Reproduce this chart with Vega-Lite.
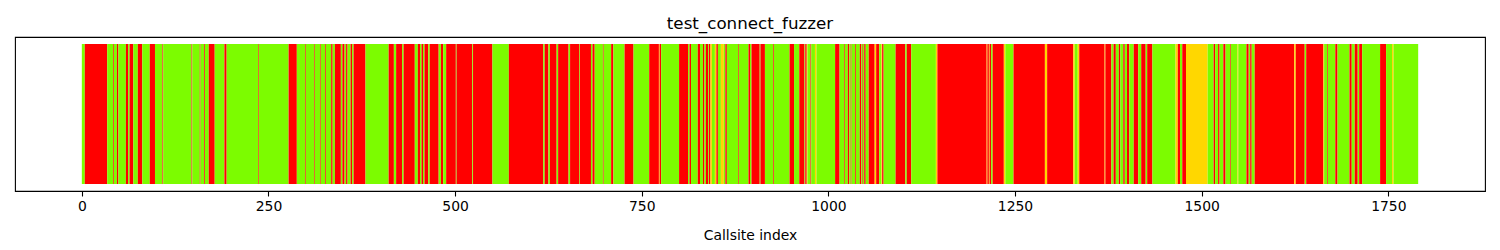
{
  "$schema": "https://vega.github.io/schema/vega-lite/v6.json",
  "width": 1470,
  "height": 154,
  "autosize": {"type": "none"},
  "padding": {"left": 15, "top": 37, "right": 15, "bottom": 59},
  "background": "white",
  "title": {"text": "test_connect_fuzzer", "fontSize": 16.7, "font": "DejaVu Sans", "fontWeight": "normal", "color": "black", "anchor": "middle", "offset": -13, "baseline": "bottom"},
  "config": {
    "view": {"stroke": "black", "strokeWidth": 1.1},
    "axis": {"grid": false}
  },
  "data": {"values": [
    {"start":0,"end":4,"status":"green"},{"start":4,"end":34,"status":"red"},{"start":34,"end":42,"status":"green"},{"start":42,"end":43,"status":"red"},{"start":43,"end":47,"status":"green"},{"start":47,"end":49,"status":"red"},{"start":49,"end":59,"status":"green"},{"start":59,"end":62,"status":"red"},{"start":62,"end":64,"status":"green"},{"start":64,"end":69,"status":"red"},{"start":69,"end":75,"status":"green"},{"start":75,"end":81,"status":"red"},{"start":81,"end":91,"status":"green"},{"start":91,"end":98,"status":"red"},{"start":98,"end":108,"status":"green"},{"start":108,"end":109,"status":"red"},{"start":109,"end":147,"status":"green"},{"start":147,"end":148,"status":"red"},{"start":148,"end":158,"status":"green"},{"start":158,"end":159,"status":"red"},{"start":159,"end":164,"status":"green"},{"start":164,"end":165,"status":"red"},{"start":165,"end":170,"status":"green"},{"start":170,"end":178,"status":"red"},{"start":178,"end":191,"status":"green"},{"start":191,"end":194,"status":"red"},{"start":194,"end":236,"status":"green"},{"start":236,"end":237,"status":"red"},{"start":237,"end":277,"status":"green"},{"start":277,"end":288,"status":"red"},{"start":288,"end":299,"status":"green"},{"start":299,"end":300,"status":"red"},{"start":300,"end":311,"status":"green"},{"start":311,"end":312,"status":"red"},{"start":312,"end":319,"status":"green"},{"start":319,"end":320,"status":"red"},{"start":320,"end":326,"status":"green"},{"start":326,"end":327,"status":"red"},{"start":327,"end":334,"status":"green"},{"start":334,"end":336,"status":"red"},{"start":336,"end":339,"status":"green"},{"start":339,"end":347,"status":"red"},{"start":347,"end":349,"status":"green"},{"start":349,"end":352,"status":"red"},{"start":352,"end":354,"status":"green"},{"start":354,"end":356,"status":"red"},{"start":356,"end":360,"status":"green"},{"start":360,"end":362,"status":"red"},{"start":362,"end":364,"status":"green"},{"start":364,"end":380,"status":"red"},{"start":380,"end":411,"status":"green"},{"start":411,"end":418,"status":"red"},{"start":418,"end":421,"status":"green"},{"start":421,"end":429,"status":"red"},{"start":429,"end":431,"status":"green"},{"start":431,"end":446,"status":"red"},{"start":446,"end":450,"status":"green"},{"start":450,"end":453,"status":"red"},{"start":453,"end":455,"status":"green"},{"start":455,"end":457,"status":"red"},{"start":457,"end":459,"status":"green"},{"start":459,"end":464,"status":"red"},{"start":464,"end":466,"status":"green"},{"start":466,"end":478,"status":"red"},{"start":478,"end":481,"status":"green"},{"start":481,"end":484,"status":"red"},{"start":484,"end":488,"status":"green"},{"start":488,"end":501,"status":"red"},{"start":501,"end":502,"status":"green"},{"start":502,"end":523,"status":"red"},{"start":523,"end":524,"status":"green"},{"start":524,"end":550,"status":"red"},{"start":550,"end":572,"status":"green"},{"start":572,"end":618,"status":"red"},{"start":618,"end":620,"status":"green"},{"start":620,"end":625,"status":"red"},{"start":625,"end":627,"status":"green"},{"start":627,"end":636,"status":"red"},{"start":636,"end":638,"status":"green"},{"start":638,"end":652,"status":"red"},{"start":652,"end":654,"status":"green"},{"start":654,"end":666,"status":"red"},{"start":666,"end":667,"status":"green"},{"start":667,"end":682,"status":"red"},{"start":682,"end":684,"status":"green"},{"start":684,"end":687,"status":"red"},{"start":687,"end":698,"status":"green"},{"start":698,"end":699,"status":"red"},{"start":699,"end":709,"status":"green"},{"start":709,"end":712,"status":"red"},{"start":712,"end":727,"status":"green"},{"start":727,"end":739,"status":"red"},{"start":739,"end":760,"status":"green"},{"start":760,"end":773,"status":"red"},{"start":773,"end":774,"status":"yellow"},{"start":774,"end":776,"status":"red"},{"start":776,"end":800,"status":"green"},{"start":800,"end":812,"status":"red"},{"start":812,"end":814,"status":"green"},{"start":814,"end":816,"status":"red"},{"start":816,"end":825,"status":"green"},{"start":825,"end":828,"status":"red"},{"start":828,"end":832,"status":"green"},{"start":832,"end":834,"status":"red"},{"start":834,"end":836,"status":"green"},{"start":836,"end":839,"status":"red"},{"start":839,"end":840,"status":"green"},{"start":840,"end":842,"status":"red"},{"start":842,"end":844,"status":"yellow"},{"start":844,"end":848,"status":"green"},{"start":848,"end":850,"status":"yellow"},{"start":850,"end":852,"status":"red"},{"start":852,"end":856,"status":"green"},{"start":856,"end":860,"status":"yellow"},{"start":860,"end":862,"status":"green"},{"start":862,"end":864,"status":"red"},{"start":864,"end":879,"status":"green"},{"start":879,"end":880,"status":"red"},{"start":880,"end":893,"status":"green"},{"start":893,"end":895,"status":"red"},{"start":895,"end":897,"status":"green"},{"start":897,"end":908,"status":"red"},{"start":908,"end":909,"status":"green"},{"start":909,"end":915,"status":"red"},{"start":915,"end":926,"status":"green"},{"start":926,"end":927,"status":"red"},{"start":927,"end":948,"status":"green"},{"start":948,"end":954,"status":"red"},{"start":954,"end":961,"status":"green"},{"start":961,"end":968,"status":"red"},{"start":968,"end":969,"status":"green"},{"start":969,"end":971,"status":"red"},{"start":971,"end":972,"status":"yellow"},{"start":972,"end":976,"status":"green"},{"start":976,"end":977,"status":"red"},{"start":977,"end":982,"status":"green"},{"start":982,"end":984,"status":"yellow"},{"start":984,"end":1009,"status":"green"},{"start":1009,"end":1015,"status":"red"},{"start":1015,"end":1021,"status":"green"},{"start":1021,"end":1022,"status":"red"},{"start":1022,"end":1026,"status":"green"},{"start":1026,"end":1028,"status":"red"},{"start":1028,"end":1030,"status":"green"},{"start":1030,"end":1031,"status":"red"},{"start":1031,"end":1036,"status":"green"},{"start":1036,"end":1037,"status":"red"},{"start":1037,"end":1042,"status":"green"},{"start":1042,"end":1044,"status":"red"},{"start":1044,"end":1045,"status":"green"},{"start":1045,"end":1046,"status":"red"},{"start":1046,"end":1048,"status":"green"},{"start":1048,"end":1050,"status":"red"},{"start":1050,"end":1054,"status":"green"},{"start":1054,"end":1062,"status":"red"},{"start":1062,"end":1064,"status":"yellow"},{"start":1064,"end":1068,"status":"red"},{"start":1068,"end":1071,"status":"green"},{"start":1071,"end":1072,"status":"yellow"},{"start":1072,"end":1074,"status":"red"},{"start":1074,"end":1090,"status":"green"},{"start":1090,"end":1103,"status":"red"},{"start":1103,"end":1105,"status":"green"},{"start":1105,"end":1111,"status":"red"},{"start":1111,"end":1144,"status":"green"},{"start":1144,"end":1146,"status":"yellow"},{"start":1146,"end":1212,"status":"red"},{"start":1212,"end":1213,"status":"yellow"},{"start":1213,"end":1215,"status":"red"},{"start":1215,"end":1216,"status":"yellow"},{"start":1216,"end":1218,"status":"red"},{"start":1218,"end":1220,"status":"green"},{"start":1220,"end":1235,"status":"red"},{"start":1235,"end":1237,"status":"yellow"},{"start":1237,"end":1248,"status":"green"},{"start":1248,"end":1290,"status":"red"},{"start":1290,"end":1293,"status":"yellow"},{"start":1293,"end":1328,"status":"red"},{"start":1328,"end":1330,"status":"yellow"},{"start":1330,"end":1334,"status":"green"},{"start":1334,"end":1336,"status":"yellow"},{"start":1336,"end":1370,"status":"red"},{"start":1370,"end":1371,"status":"yellow"},{"start":1371,"end":1379,"status":"red"},{"start":1379,"end":1382,"status":"green"},{"start":1382,"end":1385,"status":"red"},{"start":1385,"end":1389,"status":"green"},{"start":1389,"end":1391,"status":"red"},{"start":1391,"end":1395,"status":"green"},{"start":1395,"end":1397,"status":"red"},{"start":1397,"end":1400,"status":"green"},{"start":1400,"end":1403,"status":"red"},{"start":1403,"end":1409,"status":"green"},{"start":1409,"end":1415,"status":"red"},{"start":1415,"end":1419,"status":"green"},{"start":1419,"end":1425,"status":"red"},{"start":1425,"end":1427,"status":"green"},{"start":1427,"end":1434,"status":"red"},{"start":1434,"end":1465,"status":"green"},{"start":1465,"end":1468,"status":"yellow"},{"start":1468,"end":1471,"status":"red"},{"start":1471,"end":1474,"status":"green"},{"start":1474,"end":1479,"status":"red"},{"start":1479,"end":1508,"status":"yellow"},{"start":1508,"end":1516,"status":"green"},{"start":1516,"end":1518,"status":"red"},{"start":1518,"end":1522,"status":"green"},{"start":1522,"end":1524,"status":"red"},{"start":1524,"end":1529,"status":"green"},{"start":1529,"end":1532,"status":"red"},{"start":1532,"end":1538,"status":"green"},{"start":1538,"end":1539,"status":"red"},{"start":1539,"end":1548,"status":"green"},{"start":1548,"end":1549,"status":"yellow"},{"start":1549,"end":1560,"status":"green"},{"start":1560,"end":1563,"status":"red"},{"start":1563,"end":1565,"status":"green"},{"start":1565,"end":1567,"status":"red"},{"start":1567,"end":1571,"status":"green"},{"start":1571,"end":1624,"status":"red"},{"start":1624,"end":1626,"status":"yellow"},{"start":1626,"end":1638,"status":"red"},{"start":1638,"end":1640,"status":"green"},{"start":1640,"end":1663,"status":"red"},{"start":1663,"end":1664,"status":"yellow"},{"start":1664,"end":1668,"status":"green"},{"start":1668,"end":1669,"status":"red"},{"start":1669,"end":1679,"status":"green"},{"start":1679,"end":1682,"status":"red"},{"start":1682,"end":1698,"status":"green"},{"start":1698,"end":1701,"status":"red"},{"start":1701,"end":1705,"status":"green"},{"start":1705,"end":1709,"status":"red"},{"start":1709,"end":1711,"status":"green"},{"start":1711,"end":1715,"status":"red"},{"start":1715,"end":1739,"status":"green"},{"start":1739,"end":1747,"status":"red"},{"start":1747,"end":1755,"status":"green"},{"start":1755,"end":1757,"status":"yellow"},{"start":1757,"end":1790,"status":"green"}
  ]},
  "mark": {"type": "rect", "strokeWidth": 0},
  "encoding": {
    "x": {
      "field": "start", "type": "quantitative",
      "scale": {"domain": [-89.5, 1879.5], "nice": false, "zero": false},
      "axis": {
        "title": "Callsite index",
        "values": [0, 250, 500, 750, 1000, 1250, 1500, 1750],
        "format": "d",
        "domain": false,
        "ticks": true, "tickSize": 5, "tickWidth": 1.1, "tickColor": "black",
        "labelFont": "DejaVu Sans", "labelFontSize": 13.9, "labelColor": "black", "labelPadding": 3,
        "titleFont": "DejaVu Sans", "titleFontSize": 13.9, "titleFontWeight": "normal", "titleColor": "black", "titlePadding": 16
      }
    },
    "x2": {"field": "end"},
    "y": {"datum": 0, "type": "quantitative", "scale": {"domain": [-0.05, 1.05], "nice": false, "zero": false}, "axis": null},
    "y2": {"datum": 1},
    "color": {
      "field": "status", "type": "nominal",
      "scale": {"domain": ["green", "red", "yellow"], "range": ["#7CFC00", "#FF0000", "#FFD700"]},
      "legend": null
    }
  }
}
